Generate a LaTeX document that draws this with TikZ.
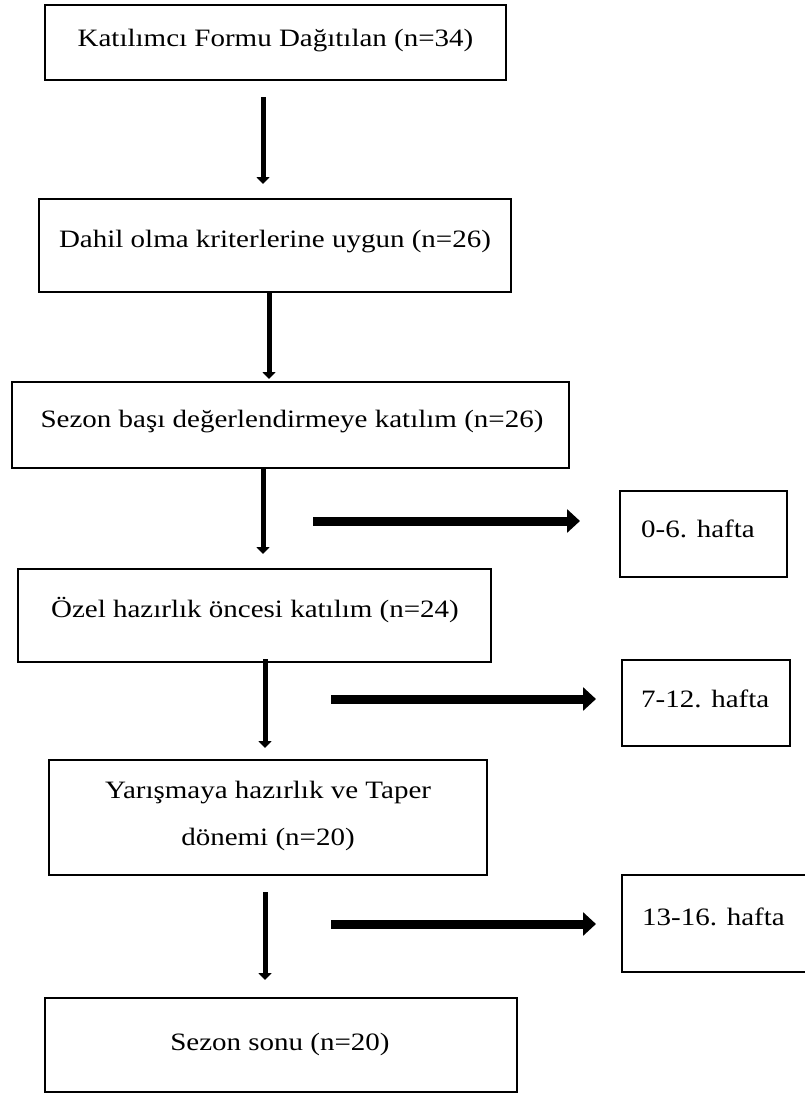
\documentclass[tikz,border=0pt]{standalone}
\usepackage{fontspec}
\setmainfont{Liberation Serif}[FakeStretch=1.16]
\usetikzlibrary{arrows.meta}
\begin{document}
\begin{tikzpicture}[x=1pt,y=-1pt,
  box/.style={draw=black,line width=2pt,rectangle,inner sep=0pt},
  txt/.style={font=\fontsize{25}{30}\selectfont,inner sep=0pt,anchor=base},
  rtxt/.style={font=\fontsize{25}{30}\selectfont,inner sep=0pt,anchor=base west},
  varrow/.style={line width=5pt,-{Triangle[width=13pt,length=7pt]}},
  harrow/.style={line width=9pt,-{Triangle[width=23pt,length=13pt]}}]
\fill[white] (0,0) rectangle (805,1093);
\useasboundingbox (0,0) rectangle (805,1093);
% main boxes
\node[box,minimum width=461pt,minimum height=75pt] (b1) at (275.5,42.5) {};
\node[box,minimum width=472.5pt,minimum height=93pt] (b2) at (274.75,245.5) {};
\node[box,minimum width=557pt,minimum height=86pt] (b3) at (290.5,425) {};
\node[box,minimum width=473pt,minimum height=93pt] (b4) at (254.5,615.5) {};
\node[box,minimum width=438pt,minimum height=115pt] (b5) at (268,817.5) {};
\node[box,minimum width=472pt,minimum height=94pt] (b6) at (281,1045) {};
% right boxes
\node[box,minimum width=167pt,minimum height=86pt] (r1) at (703.5,534) {};
\node[box,minimum width=168pt,minimum height=86pt] (r2) at (706,703) {};
\node[box,minimum width=190pt,minimum height=97pt] (r3) at (717,923.5) {};
% texts
\node[txt] (t1) at (275.5,46) {Katılımcı Formu Dağıtılan (n=34)};
\node[txt] (t2) at (275,247) {Dahil olma kriterlerine uygun (n=26)};
\node[txt] (t3) at (292,427) {Sezon başı değerlendirmeye katılım (n=26)};
\node[txt] (t4) at (255,617) {Özel hazırlık öncesi katılım (n=24)};
\node[txt] (t5a) at (268,798) {Yarışmaya hazırlık ve Taper};
\node[txt] (t5b) at (268,845) {dönemi (n=20)};
\node[txt] (t6) at (280,1050) {Sezon sonu (n=20)};
\node[rtxt] (u1) at (641,537) {0-6. hafta};
\node[rtxt] (u2) at (641,707) {7-12. hafta};
\node[rtxt] (u3) at (642,925) {13-16. hafta};
% vertical arrow ends
\coordinate (v1s) at (263,97);   \coordinate (v1e) at (263,184);
\coordinate (v2s) at (269,292);  \coordinate (v2e) at (269,379);
\coordinate (v3s) at (263,468);  \coordinate (v3e) at (263,554);
\coordinate (v4s) at (265,659);  \coordinate (v4e) at (265,748);
\coordinate (v5s) at (265,892);  \coordinate (v5e) at (265,980);
\draw[varrow] (v1s) -- (v1e);
\draw[varrow] (v2s) -- (v2e);
\draw[varrow] (v3s) -- (v3e);
\draw[varrow] (v4s) -- (v4e);
\draw[varrow] (v5s) -- (v5e);
% horizontal arrow ends
\coordinate (h1s) at (313,521); \coordinate (h1e) at (580,521);
\coordinate (h2s) at (331,699); \coordinate (h2e) at (596,699);
\coordinate (h3s) at (331,924); \coordinate (h3e) at (596,924);
\draw[harrow] (h1s) -- (h1e);
\draw[harrow] (h2s) -- (h2e);
\draw[harrow] (h3s) -- (h3e);
\end{tikzpicture}
\end{document}
